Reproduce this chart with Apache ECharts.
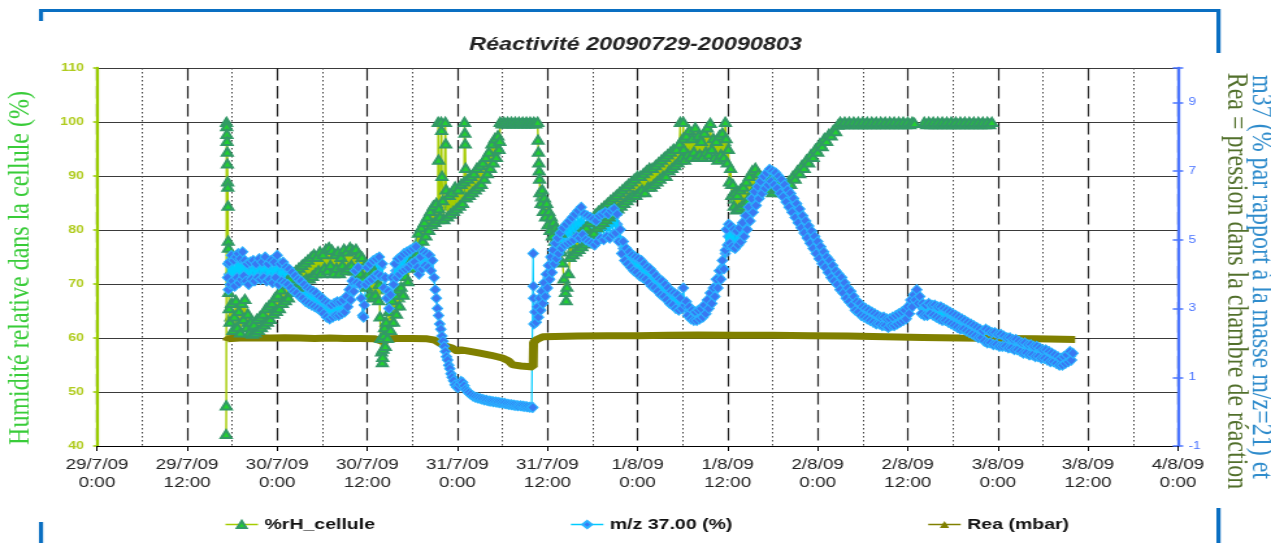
<!DOCTYPE html>
<html><head><meta charset="utf-8">
<script src="https://cdn.jsdelivr.net/npm/echarts@6/dist/echarts.min.js"></script>
<style>
html,body{margin:0;padding:0;background:#fff;overflow:hidden;width:1271px;height:543px}
#c{width:978px;height:543px;transform:scaleX(1.29959);transform-origin:0 0}
</style>
</head><body><div id="c"></div>
<script>
// x values: hours since 29/7/09 0:00
const xTickLabels = ['29/7/09\n0:00','29/7/09\n12:00','30/7/09\n0:00','30/7/09\n12:00','31/7/09\n0:00','31/7/09\n12:00','1/8/09\n0:00','1/8/09\n12:00','2/8/09\n0:00','2/8/09\n12:00','3/8/09\n0:00','3/8/09\n12:00','4/8/09\n0:00'];
const seriesNames = ['%rH_cellule','m/z 37.00 (%)','Rea (mbar)'];

const rhData = [[17.2,42.2],[17.22,47.5],[17.25,100],[17.27,99.2],[17.3,97.8],[17.32,96.5],[17.35,94.5],[17.37,92.3],[17.4,89],[17.42,88],[17.45,84.5],[17.47,78],[17.5,76.7],[17.55,68.5],[17.6,65.5],
[17.7,63],[17.9,66.5],[18.1,61.5],[18.3,64],[18.5,67],[18.7,62],[18.9,65],[19.1,61],[19.3,66.5],[19.5,63.5],[19.7,67.2],[19.9,62],[20.1,64.5],[20.3,61],[20.5,63],[20.7,60.8],[20.9,62.5],[21.1,61],[21.3,63.5],[21.5,61.5],[21.7,64],[21.9,62],[22.1,64.5],[22.3,62.5],[22.5,65.5],[22.7,63],[22.9,66],[23.1,63.5],[23.3,66.5],[23.5,64.5],[23.7,67.5],[23.9,65],[24.1,68],[24.3,65.5],[24.5,69],[24.7,66.5],[24.9,70],[25.1,67],[25.3,70.5],[25.5,67.5],[25.7,71],[25.9,68.5],[26.1,72],[26.3,69],[26.5,72.5],[26.7,69.5],[26.9,73],[27.1,70],[27.3,73.5],[27.5,70.5],[27.7,74],[27.9,71],[28.1,74.5],[28.3,71],[28.5,75],[28.7,71.5],[28.9,75.5],[29.1,72],[29.3,75],[29.5,72.5],[29.7,76],[29.9,72],[30.1,75.5],[30.3,73],[30.5,76.5],[30.7,72.5],[30.9,76.8],[31.1,73.5],[31.3,76.3],[31.5,72],[31.7,75.5],[31.9,73],[32.1,76],[32.3,72],[32.5,75],[32.7,73.5],[32.9,76.5],[33.1,72.5],[33.3,76],[33.5,73],[33.7,76.8],[33.9,73.5],[34.1,76.3],[34.3,72.5],[34.5,76.5],[34.7,73],[34.9,75.5],[35.1,72],[35.3,75],[35.5,71],[35.7,73.5],[35.9,69.5],[36.1,72],[36.3,68],[36.5,71],[36.7,67.5],[36.9,72.5],[37.1,68],[37.3,71.5],[37.5,67],[37.6,70],[37.7,64],[37.8,60],[37.9,57.5],[38.0,55.5],[38.05,56.5],[38.1,58],[38.2,60.5],[38.3,62],[38.4,58.5],[38.5,63],[38.7,60],[38.9,65],[39.1,61.5],[39.3,67],[39.5,63],[39.7,68],[39.9,64.5],[40.1,69],[40.3,66],[40.5,69.5],[40.8,68],[41.1,71.5],[41.4,70.5],[41.7,74],[42.0,73],[42.3,76.5],[42.6,75.5],[42.8,79.5],[43.0,77],[43.2,80.5],[43.4,78],[43.6,81.5],[43.8,79],[44.0,82.5],[44.2,80],[44.4,83.5],[44.6,81],[44.8,84.5],[45.0,81.5],[45.2,85],[45.4,82],[45.45,100],[45.5,93],[45.55,84],[45.7,82.5],[45.85,100],[45.9,98.5],[45.95,90],[46.05,85.5],[46.2,82],[46.4,100],[46.45,96],[46.5,87.5],[46.7,82.5],[46.9,86.5],[47.1,83],[47.3,87],[47.5,83.5],[47.7,88],[47.9,84],[48.1,87.5],[48.3,84.5],[48.5,88.5],[48.7,85],[48.9,89],[48.95,100],[49.0,98],[49.05,96],[49.1,91.5],[49.2,86],[49.4,89.5],[49.6,86.5],[49.8,90],[50.0,87],[50.2,90.5],[50.4,87.5],[50.6,91.5],[50.8,88],[51.0,92],[51.2,88.5],[51.4,92.5],[51.6,89.5],[51.8,93.5],[52.0,90.5],[52.2,94.5],[52.4,91.5],[52.6,96],[52.8,92.5],[53.0,97],[53.2,93.5],[53.4,97.5],[53.55,95],[53.65,96.5],[53.7,100],
[53.95,99.7],[54.2,100],[54.45,99.7],[54.7,100],[54.95,99.7],[55.2,100],[55.45,99.7],[55.7,100],[55.95,99.7],[56.2,100],[56.45,99.7],[56.7,100],[56.95,99.7],[57.2,100],[57.45,99.7],[57.7,100],[57.95,99.7],[58.2,100],[58.45,99.7],[58.7,100],
[58.75,96.7],[58.8,94.5],[58.85,92.5],[58.9,91],[58.95,89.5],[59.0,87],[59.15,85],[59.3,87.5],[59.45,83.5],[59.6,86],[59.75,82.5],[59.9,85],[60.05,81],[60.2,83.5],[60.35,80],[60.5,82.5],[60.65,79],[60.8,81.5],[60.95,78],[61.1,80.5],[61.25,77.5],[61.4,80],[61.55,77],[61.7,79.5],[61.85,76],[62.0,74],[62.2,71],[62.4,68.5],[62.5,67],[62.6,69.5],[62.8,72],[63.0,75],[63.2,77.5],[63.4,75.5],[63.6,78.5],[63.8,76],[64.0,79],[64.2,76.5],[64.4,79.5],[64.6,77],[64.8,80],[65.0,77.5],[65.2,80.5],[65.4,78],[65.6,81.5],[65.8,79],[66.0,82],[66.2,79.5],[66.4,83],[66.6,80.5],[66.8,83.5],[67.0,81],[67.2,84],[67.4,81.5],[67.6,84.5],[67.8,82],[68.0,85],[68.2,82.5],[68.4,85.5],[68.6,83],[68.8,86],[69.0,83.5],[69.2,86.5],[69.4,84],[69.6,87],[69.8,84.5],[70.0,87.5],[70.2,85],[70.4,88],[70.6,85.5],[70.8,88.5],[71.0,86],[71.2,89],[71.4,86.5],[71.6,89.5],[71.8,86.5],[72.0,90],[72.2,87],[72.4,90],[72.6,87.5],[72.8,90.5],[73.0,87],[73.2,91],[73.4,88],[73.6,91.5],[73.8,88],[74.0,91.5],[74.2,88.5],[74.4,92],[74.6,89],[74.8,92.5],[75.0,89.5],[75.2,93],[75.4,90],[75.6,93.5],[75.8,90],[76.0,94],[76.2,91],[76.4,94.5],[76.6,91.5],[76.8,95],[77.0,92],[77.2,95],[77.4,92.5],[77.6,96],[77.7,100],[77.75,93],[77.9,93.5],[78.05,97],[78.1,100],[78.15,95],[78.3,93],[78.5,97.5],[78.7,94],[78.9,98.5],[79.1,93.5],[79.3,97],[79.5,94.5],[79.7,99],[79.9,93.5],[80.1,97.5],[80.3,94],[80.5,96.5],[80.7,93.5],[80.9,98],[81.1,94.5],[81.3,99],[81.5,94],[81.7,99.8],[81.9,95],[82.1,97],[82.3,93.5],[82.5,96.5],[82.7,93],[82.9,97.5],[83.1,94],[83.3,98],[83.5,93.5],[83.7,100],[83.8,97],[83.95,92.5],[84.1,95],[84.25,89],[84.4,91.5],[84.55,86.5],[84.7,88.5],[84.85,84.5],[85.0,87],[85.15,83.8],[85.3,86.5],[85.5,84],[85.7,87.5],[85.9,84.5],[86.1,88],[86.3,85],[86.5,89],[86.7,85.5],[86.9,90],[87.1,86.5],[87.3,91],[87.5,87.5],[87.7,91.5],[87.9,88],[88.1,90.5],[88.3,87.5],[88.5,89.5],[88.8,88],[89.1,90],[89.4,87.5],[89.7,89.5],[90.0,87],[90.3,89],[90.6,87.5],[90.9,89],[91.2,87],[91.5,88.5],[91.8,87.5],[92.1,89],[92.4,88.5],[92.7,90],[93.0,89.5],[93.3,91],[93.6,90.5],[93.9,92],[94.2,91.5],[94.5,93],[94.8,92.5],[95.1,94],[95.4,93.5],[95.7,95],[96.0,94.5],[96.3,96],[96.6,95.5],[96.9,97],[97.2,96.5],[97.5,97.8],[97.8,97.5],[98.1,98.5],[98.4,98.3],[98.7,99.5],[99.0,100],
[99.3,99.6],[99.6,100],[99.9,99.6],[100.2,100],[100.5,99.6],[100.8,100],[101.1,99.6],[101.4,100],[101.7,99.6],[102.0,100],[102.3,99.6],[102.6,100],[102.9,99.6],[103.2,100],[103.5,99.6],[103.8,100],[104.1,99.6],[104.4,100],[104.7,99.6],[105.0,100],[105.3,99.6],[105.6,100],[105.9,99.6],[106.2,100],[106.5,99.6],[106.8,100],[107.1,99.6],[107.4,100],[107.7,99.6],[108.0,100],[108.3,99.6],[108.6,100],[108.9,99.8],
[109.5,null],
[110.2,100],[110.5,99.6],[110.8,100],[111.1,99.6],[111.4,100],[111.7,99.6],[112.0,100],[112.3,99.6],[112.6,100],[112.9,99.6],[113.2,100],[113.5,99.6],[113.8,100],[114.1,99.6],[114.4,100],[114.7,99.6],[115.0,100],[115.3,99.6],[115.6,100],[115.9,99.6],[116.2,100],[116.5,99.6],[116.8,100],[117.1,99.6],[117.4,100],[117.7,99.6],[118.0,100],[118.3,99.6],[118.6,100],[118.9,99.6],[119.2,100]];

// readings from the middle of the dense %rH band
const rhMidData = [[17.8,64],[18.2,63.5],[18.6,64.5],[19.0,63],[19.4,65],[19.8,64.5],[20.2,63],[20.6,62],[21.0,62],[21.4,62.5],[21.8,63],[22.2,63.5],[22.6,64.2],[23.0,64.8],[23.4,65.5],[23.8,66.2],[24.2,67],[24.6,67.8],[25.0,68.5],[25.4,69],[25.8,69.8],[26.2,70.5],[26.6,71],[27.0,71.5],[27.4,72],[27.8,72.5],[28.2,72.8],[28.6,73.2],[29.0,73.6],[29.4,73.8],[29.8,74],[30.2,74.3],[30.6,74.6],[31.0,75],[31.4,74.5],[31.8,74.3],[32.2,74],[32.6,74.3],[33.0,74.5],[33.4,74.7],[33.8,75],[34.2,74.5],[34.6,74.8],[35.0,73.8],[35.4,73],[35.8,71.5],[36.2,70],[36.6,69.5],[37.0,70],[37.4,69],[38.6,61.5],[39.0,63],[39.4,64.8],[39.8,66],[40.2,67.5],[40.6,68.5],[42.9,78.3],[43.3,79.2],[43.7,80.2],[44.1,81.2],[44.5,82.2],[44.9,83],[45.3,83.5],[46.8,84.5],[47.2,85],[47.6,85.8],[48.0,86],[48.4,86.5],[48.8,87],[49.3,87.8],[49.7,88.2],[50.1,88.8],[50.5,89.5],[50.9,90],[51.3,90.5],[51.7,91.5],[52.1,92.5],[52.5,93.8],[52.9,94.7],[53.3,95.5],[59.2,86.2],[59.6,84.8],[60.0,83],[60.4,81.3],[60.8,80],[61.2,79],[61.6,78.2],[63.3,76.5],[63.7,77.3],[64.1,77.8],[64.5,78.3],[64.9,78.8],[65.3,79.3],[65.7,80.2],[66.1,80.8],[66.5,81.8],[66.9,82.3],[67.3,82.8],[67.7,83.3],[68.1,83.8],[68.5,84.3],[68.9,84.8],[69.3,85.3],[69.7,85.8],[70.1,86.3],[70.5,86.8],[70.9,87.3],[71.3,87.8],[71.7,88],[72.1,88.5],[72.5,88.8],[72.9,89],[73.3,89.5],[73.7,89.8],[74.1,90],[74.5,90.5],[74.9,91],[75.3,91.5],[75.7,91.8],[76.1,92.5],[76.5,93],[76.9,93.5],[77.3,93.8],[78.4,95.3],[78.8,96],[79.2,95.5],[79.6,96.5],[80.0,95.5],[80.4,95.3],[80.8,95.5],[81.2,96.5],[81.6,96.8],[82.0,96],[82.4,95],[82.8,95.3],[83.2,96],[83.6,96.5],[84.5,88.5],[84.9,85.8],[85.4,85.2],[85.8,86],[86.2,86.5],[86.6,87.2],[87.0,88.2],[87.4,89.2],[87.8,89.8],[88.2,89],[88.6,88.7],[89.2,88.7],[89.8,88.3],[90.4,88.2],[91.0,88],[91.6,88],[92.2,88.8]];

const mzData = [[17.4,3.9],[17.45,4.3],[17.5,3.55],[17.6,4.35],[17.75,3.7],[17.9,4.55],[18.05,3.8],[18.2,4.4],[18.35,3.65],[18.5,4.5],[18.65,3.9],[18.8,4.6],[18.95,3.75],[19.1,4.45],[19.25,3.85],[19.4,4.65],[19.55,3.95],[19.7,4.4],[19.85,3.8],[20.0,4.3],[20.2,3.7],[20.4,4.35],[20.6,3.85],[20.8,4.4],[21.0,3.8],[21.2,4.3],[21.4,3.9],[21.6,4.45],[21.8,3.85],[22.0,4.35],[22.2,3.9],[22.4,4.5],[22.6,3.8],[22.8,4.3],[23.0,3.85],[23.2,4.4],[23.4,3.75],[23.6,4.35],[23.8,3.9],[24.0,4.55],[24.2,3.7],[24.4,4.3],[24.6,3.8],[24.8,4.35],[25.0,3.75],[25.2,4.2],[25.4,3.7],[25.6,4.15],[25.8,3.6],[26.0,4.05],[26.2,3.5],[26.4,3.95],[26.6,3.45],[26.8,3.85],[27.0,3.35],[27.2,3.8],[27.4,3.3],[27.6,3.7],[27.8,3.2],[28.0,3.6],[28.2,3.15],[28.4,3.55],[28.6,3.1],[28.8,3.5],[29.0,3.05],[29.2,3.45],[29.4,3.0],[29.6,3.35],[29.8,2.95],[30.0,3.3],[30.2,2.85],[30.4,3.2],[30.6,2.75],[30.8,3.15],[31.0,2.7],[31.2,3.1],[31.4,2.75],[31.6,3.15],[31.8,2.8],[32.0,3.2],[32.2,2.8],[32.4,3.2],[32.6,2.85],[32.8,3.25],[33.0,2.9],[33.2,3.35],[33.4,3.05],[33.6,3.55],[33.8,3.25],[34.0,3.8],[34.2,3.5],[34.4,4.1],[34.6,3.75],[34.8,4.2],[35.0,3.7],[35.2,3.3],[35.4,2.8],[35.5,2.75],[35.6,3.1],[35.8,3.7],[36.0,4.2],[36.2,3.8],[36.4,4.3],[36.6,3.85],[36.8,4.4],[37.0,3.95],[37.2,4.45],[37.4,4.0],[37.6,4.5],[37.8,3.95],[38.0,4.3],[38.2,3.6],[38.4,3.9],[38.6,3.3],[38.8,3.5],[38.9,3.0],[39.1,3.4],[39.3,3.9],[39.5,3.7],[39.7,4.3],[39.9,3.9],[40.1,4.45],[40.3,4.0],[40.5,4.5],[40.7,4.1],[40.9,4.6],[41.1,4.15],[41.3,4.65],[41.5,4.2],[41.7,4.7],[41.9,4.3],[42.1,4.75],[42.3,4.35],[42.5,4.8],[42.7,4.2],[42.9,4.0],[43.1,4.5],[43.3,4.15],[43.5,4.65],[43.7,4.25],[43.9,4.6],[44.1,4.2],[44.3,4.55],[44.5,4.1],[44.7,4.4],[44.9,3.9],[45.05,3.55],[45.2,3.3],[45.35,3.0],[45.5,2.8],[45.65,2.55],[45.8,2.4],[45.95,2.2],[46.1,2.05],[46.25,1.9],[46.4,1.75],[46.55,1.6],[46.7,1.5],[46.85,1.35],[47.0,1.25],[47.15,1.1],[47.3,1.0],[47.5,0.9],[47.7,0.78],[47.9,0.72],[48.1,0.7],[48.3,0.8],[48.5,0.88],[48.7,0.85],[48.9,0.75],[49.1,0.65],[49.3,0.6],[49.5,0.55],[49.8,0.5],[50.1,0.45],[50.4,0.42],[50.7,0.4],[51.0,0.38],[51.3,0.36],[51.6,0.34],[51.9,0.33],[52.2,0.31],[52.5,0.3],[52.8,0.29],[53.1,0.28],[53.4,0.27],[53.7,0.26],[54.0,0.25],[54.3,0.24],[54.6,0.22],[54.9,0.21],[55.2,0.2],[55.5,0.19],[55.8,0.18],[56.1,0.17],[56.4,0.17],[56.7,0.16],[57.0,0.15],[57.3,0.14],[57.6,0.13],[57.9,0.13],[58.05,0.12],
[58.1,4.6],[58.13,3.65],[58.16,3.3],[58.2,2.55],[58.35,2.9],[58.5,2.6],[58.65,3.05],[58.8,2.75],[58.95,3.3],[59.1,2.95],[59.25,3.5],[59.4,3.15],[59.55,3.75],[59.7,3.35],[59.85,4.0],[60.0,3.6],[60.15,4.25],[60.3,3.85],[60.45,4.5],[60.6,4.05],[60.75,4.7],[60.9,4.3],[61.05,4.9],[61.2,4.45],[61.35,5.05],[61.5,4.6],[61.7,5.2],[61.9,4.75],[62.1,5.35],[62.3,4.85],[62.5,5.45],[62.7,4.9],[62.9,5.55],[63.1,4.95],[63.3,5.65],[63.5,5.0],[63.7,5.75],[63.9,5.1],[64.1,5.85],[64.3,5.05],[64.5,5.95],[64.7,5.15],[64.9,5.75],[65.1,5.0],[65.3,5.7],[65.5,4.95],[65.7,5.65],[65.9,4.9],[66.1,5.6],[66.3,4.85],[66.5,5.55],[66.7,4.95],[66.9,5.7],[67.1,5.05],[67.3,5.75],[67.5,5.0],[67.7,5.8],[67.9,5.1],[68.1,5.75],[68.3,5.05],[68.5,5.85],[68.7,5.15],[68.9,5.9],[69.1,5.2],[69.3,5.75],[69.5,4.95],[69.7,5.3],[69.9,4.6],[70.1,4.95],[70.3,4.4],[70.5,4.75],[70.7,4.3],[70.9,4.65],[71.1,4.2],[71.3,4.55],[71.5,4.1],[71.7,4.5],[71.9,4.05],[72.1,4.45],[72.3,3.95],[72.5,4.4],[72.7,3.9],[72.9,4.3],[73.1,3.85],[73.3,4.2],[73.5,3.75],[73.7,4.15],[73.9,3.65],[74.1,4.05],[74.3,3.6],[74.5,3.95],[74.7,3.5],[74.9,3.85],[75.1,3.4],[75.3,3.8],[75.5,3.35],[75.7,3.7],[75.9,3.25],[76.1,3.6],[76.3,3.15],[76.5,3.5],[76.7,3.1],[76.9,3.45],[77.1,3.0],[77.3,3.4],[77.5,2.95],[77.7,3.3],[77.9,3.0],[78.1,3.6],[78.3,3.1],[78.5,3.2],[78.7,2.8],[78.9,3.05],[79.1,2.7],[79.3,2.95],[79.5,2.65],[79.7,2.9],[79.9,2.65],[80.1,2.95],[80.3,2.7],[80.5,3.0],[80.7,2.75],[80.9,3.1],[81.1,2.85],[81.3,3.25],[81.5,3.0],[81.7,3.45],[81.9,3.15],[82.1,3.6],[82.3,3.35],[82.5,3.85],[82.7,3.6],[82.9,4.1],[83.1,3.85],[83.3,4.4],[83.5,4.15],[83.7,4.7],[83.85,5.3],[84.0,4.85],[84.15,5.45],[84.3,4.9],[84.45,5.4],[84.6,4.8],[84.8,5.3],[85.0,4.75],[85.2,5.25],[85.4,4.85],[85.6,5.35],[85.8,4.95],[86.0,5.5],[86.2,5.1],[86.4,5.7],[86.6,5.3],[86.8,5.95],[87.0,5.55],[87.2,6.2],[87.4,5.8],[87.6,6.4],[87.8,6.0],[88.0,6.55],[88.2,6.2],[88.4,6.7],[88.6,6.35],[88.8,6.85],[89.0,6.5],[89.2,6.95],[89.4,6.6],[89.6,7.05],[89.8,6.7],[90.0,7.0],[90.2,6.6],[90.4,6.95],[90.6,6.5],[90.8,6.85],[91.0,6.35],[91.2,6.75],[91.4,6.25],[91.6,6.6],[91.8,6.1],[92.0,6.45],[92.2,5.95],[92.4,6.35],[92.6,5.8],[92.8,6.2],[93.0,5.65],[93.2,6.05],[93.4,5.5],[93.6,5.9],[93.8,5.35],[94.0,5.7],[94.2,5.2],[94.4,5.55],[94.6,5.05],[94.8,5.4],[95.0,4.9],[95.2,5.25],[95.4,4.75],[95.6,5.1],[95.8,4.6],[96.0,4.95],[96.2,4.45],[96.4,4.8],[96.6,4.3],[96.8,4.65],[97.0,4.2],[97.2,4.5],[97.4,4.05],[97.6,4.4],[97.8,3.9],[98.0,4.25],[98.2,3.8],[98.4,4.1],[98.6,3.7],[98.8,4.0],[99.0,3.55],[99.2,3.9],[99.4,3.45],[99.6,3.75],[99.8,3.3],[100.0,3.6],[100.2,3.2],[100.4,3.5],[100.6,3.1],[100.8,3.35],[101.0,2.95],[101.2,3.2],[101.4,2.9],[101.6,3.15],[101.8,2.8],[102.0,3.05],[102.2,2.75],[102.4,3.0],[102.6,2.7],[102.8,2.95],[103.0,2.65],[103.2,2.9],[103.4,2.6],[103.6,2.85],[103.8,2.55],[104.0,2.8],[104.2,2.55],[104.4,2.75],[104.6,2.5],[104.8,2.75],[105.0,2.5],[105.2,2.7],[105.4,2.45],[105.6,2.7],[105.8,2.5],[106.0,2.75],[106.2,2.5],[106.4,2.8],[106.6,2.55],[106.8,2.85],[107.0,2.6],[107.2,2.9],[107.4,2.65],[107.6,2.95],[107.8,2.7],[108.0,3.05],[108.2,2.85],[108.4,3.25],[108.6,3.05],[108.8,3.4],[109.0,3.25],[109.2,3.55],[109.4,3.15],[109.6,3.35],[109.8,2.85],
[110.0,3.15],[110.2,2.8],[110.4,3.1],[110.6,2.8],[110.8,3.15],[111.0,2.85],[111.2,3.1],[111.4,2.8],[111.6,3.1],[111.8,2.75],[112.0,3.05],[112.2,2.7],[112.4,3.05],[112.6,2.65],[112.8,3.0],[113.0,2.65],[113.2,2.95],[113.4,2.6],[113.6,2.9],[113.8,2.55],[114.0,2.85],[114.2,2.5],[114.4,2.8],[114.6,2.45],[114.8,2.75],[115.0,2.4],[115.2,2.7],[115.4,2.4],[115.6,2.65],[115.8,2.35],[116.0,2.6],[116.2,2.3],[116.4,2.55],[116.6,2.25],[116.8,2.5],[117.0,2.2],[117.2,2.45],[117.4,2.15],[117.6,2.4],[117.8,2.15],[118.0,2.35],
[118.2,2.05],[118.4,2.4],[118.6,2.0],[118.8,2.35],[119.0,2.0],[119.2,2.3],[119.4,1.95],[119.6,2.3],[119.8,1.95],[120.0,2.25],[120.2,1.9],[120.4,2.25],[120.6,1.9],[120.8,2.2],[121.0,1.9],[121.2,2.15],[121.4,1.85],[121.6,2.15],[121.8,1.85],[122.0,2.1],[122.2,1.8],[122.4,2.1],[122.6,1.8],[122.8,2.05],[123.0,1.75],[123.2,2.0],[123.4,1.7],[123.6,2.0],[123.8,1.7],[124.0,1.95],[124.2,1.65],[124.4,1.95],[124.6,1.65],[124.8,1.9],[125.0,1.6],[125.2,1.9],[125.4,1.6],[125.6,1.85],[125.8,1.55],[126.0,1.8],[126.2,1.55],[126.4,1.8],[126.6,1.5],[126.8,1.75],[127.0,1.45],[127.2,1.7],[127.4,1.45],[127.6,1.65],[127.8,1.4],[128.0,1.6],[128.2,1.35],[128.4,1.55],[128.6,1.35],[128.8,1.6],[129.0,1.4],[129.2,1.65],[129.4,1.45],[129.6,1.75],[129.8,1.5],[130.0,1.7]];

// readings from the middle of the dense m/z 37 band
const mzMidData = [[17.6,4.0],[18.0,4.1],[18.4,4.05],[18.8,4.15],[19.2,4.2],[19.6,4.15],[20.0,4.05],[20.4,4.1],[20.8,4.1],[21.2,4.05],[21.6,4.15],[22.0,4.1],[22.4,4.15],[22.8,4.05],[23.2,4.1],[23.6,4.05],[24.0,4.1],[24.4,4.05],[24.8,4.05],[25.2,3.95],[25.6,3.9],[26.0,3.8],[26.4,3.7],[26.8,3.6],[27.2,3.55],[27.6,3.45],[28.0,3.4],[28.4,3.35],[28.8,3.3],[29.2,3.25],[29.6,3.15],[30.0,3.1],[30.4,3.0],[30.8,2.95],[31.2,2.9],[31.6,2.95],[32.0,3.0],[32.4,3.0],[32.8,3.05],[33.2,3.2],[33.6,3.4],[34.0,3.65],[34.4,3.9],[34.8,3.95],[36.2,4.0],[36.6,4.1],[37.0,4.2],[37.4,4.25],[37.8,4.2],[39.8,4.1],[40.2,4.25],[40.6,4.3],[41.0,4.4],[41.4,4.45],[41.8,4.5],[42.2,4.55],[42.6,4.5],[43.2,4.35],[43.6,4.45],[44.0,4.4],[44.4,4.35],[58.9,3.0],[59.3,3.3],[59.7,3.6],[60.1,3.9],[60.5,4.3],[60.9,4.55],[61.3,4.75],[61.7,4.95],[62.1,5.1],[62.5,5.2],[62.9,5.25],[63.3,5.3],[63.7,5.4],[64.1,5.45],[64.5,5.5],[64.9,5.4],[65.3,5.35],[65.7,5.3],[66.1,5.25],[66.5,5.2],[66.9,5.35],[67.3,5.4],[67.7,5.45],[68.1,5.4],[68.5,5.5],[68.9,5.55],[69.3,5.45],[69.7,5.0],[70.1,4.75],[70.5,4.55],[70.9,4.45],[71.3,4.35],[71.7,4.3],[72.1,4.2],[72.5,4.15],[72.9,4.1],[73.3,4.0],[73.7,3.9],[74.1,3.85],[74.5,3.75],[74.9,3.65],[75.3,3.6],[75.7,3.5],[76.1,3.4],[76.5,3.3],[76.9,3.25],[77.3,3.2],[77.7,3.15],[78.5,3.0],[78.9,2.9],[79.3,2.8],[79.7,2.78],[80.1,2.8],[80.5,2.85],[80.9,2.95],[81.3,3.05],[81.7,3.25],[82.1,3.4],[82.5,3.65],[82.9,3.9],[83.3,4.2],[83.7,4.6],[84.1,5.1],[84.5,5.1],[84.9,5.0],[85.3,5.05],[85.7,5.15],[86.1,5.3],[86.5,5.5],[86.9,5.75],[87.3,6.0],[87.7,6.2],[88.1,6.4],[88.5,6.5],[88.9,6.7],[89.3,6.8],[89.7,6.9],[90.1,6.8],[90.5,6.7],[90.9,6.6],[91.3,6.5],[91.7,6.35],[92.1,6.2],[92.5,6.05],[92.9,5.9],[93.3,5.75],[93.7,5.6],[94.1,5.45],[94.5,5.3],[94.9,5.15],[95.3,5.0],[95.7,4.85],[96.1,4.7],[96.5,4.55],[96.9,4.45],[97.3,4.3],[97.7,4.15],[98.1,4.0],[98.5,3.9],[98.9,3.8],[99.3,3.65],[99.7,3.5],[100.1,3.4],[100.5,3.3],[100.9,3.15],[101.3,3.05],[101.7,2.95],[102.1,2.9],[102.5,2.85],[102.9,2.8],[103.3,2.75],[103.7,2.7],[104.1,2.65],[104.5,2.62],[104.9,2.6],[105.3,2.58],[105.7,2.6],[106.1,2.62],[106.5,2.65],[106.9,2.7],[107.3,2.78],[107.7,2.82],[108.1,2.95],[108.5,3.15],[108.9,3.3],[109.3,3.35],[109.7,3.1],[110.1,2.98],[110.5,2.95],[110.9,3.0],[111.3,2.95],[111.7,2.9],[112.1,2.88],[112.5,2.85],[112.9,2.82],[113.3,2.78],[113.7,2.72],[114.1,2.68],[114.5,2.62],[114.9,2.58],[115.3,2.55],[115.7,2.5],[116.1,2.45],[116.5,2.4],[116.9,2.35],[117.3,2.3],[117.7,2.28],[118.1,2.22],[118.5,2.2],[118.9,2.18],[119.3,2.12],[119.7,2.12],[120.1,2.08],[120.5,2.05],[120.9,2.05],[121.3,2.0],[121.7,2.0],[122.1,1.95],[122.5,1.95],[122.9,1.9],[123.3,1.85],[123.7,1.85],[124.1,1.8],[124.5,1.8],[124.9,1.75],[125.3,1.75],[125.7,1.7],[126.1,1.68],[126.5,1.65],[126.9,1.6],[127.3,1.58],[127.7,1.52],[128.1,1.48],[128.5,1.45],[128.9,1.5],[129.3,1.55],[129.7,1.62]];

const reaData = [[17.3,2.05],[17.4,2.12],[19,2.14],[21,2.15],[23,2.14],[25,2.15],[27,2.14],[29,2.13],[31,2.14],[33,2.13],[35,2.13],[37,2.12],[37.8,2.06],[38.3,2.04],[38.8,2.12],[40,2.13],[42,2.13],[44,2.12],[45,2.08],[45.7,1.99],[46.5,1.9],[47.3,1.85],[48,1.76],[48.5,1.8],[49.5,1.76],[51,1.7],[52.5,1.64],[54,1.56],[54.8,1.48],[55.4,1.36],[56.5,1.33],[58.1,1.3],[58.15,2.02],[58.6,2.1],[59.4,2.18],[61,2.19],[64,2.2],[68,2.21],[72,2.21],[76,2.22],[80,2.23],[85,2.22],[90,2.22],[95,2.21],[100,2.2],[105,2.18],[110,2.16],[115,2.14],[120,2.13],[125,2.12],[130.3,2.1]];

const SX = 1271 / 978;
const px = x => x / SX;

const rhStyle = {symbol: 'triangle', symbolSize: [8, 8], itemStyle: {color: '#22d030', borderColor: '#339966', borderWidth: 2}};
const mzStyle = {symbol: 'diamond', symbolSize: [8, 10], itemStyle: {color: '#3a78f2', borderColor: '#2ab4ff', borderWidth: 1}};

const chart = echarts.init(document.getElementById('c'), null, {renderer: 'canvas'});
const rightAxisBase = {type: 'value', min: -1, max: 10, interval: 2, position: 'right'};
chart.setOption({
  animation: false,
  backgroundColor: '#fff',
  title: {
    text: 'Réactivité 20090729-20090803', left: 'center', top: 31,
    textStyle: {fontSize: 18, fontWeight: 'bold', fontStyle: 'italic', color: '#222', fontFamily: 'Liberation Sans, Arial'}
  },
  grid: {left: px(97), right: px(1271 - 1178), top: 68, bottom: 97},
  legend: {
    left: px(218), top: 512, itemGap: 150, itemWidth: 25, itemHeight: 9,
    textStyle: {fontWeight: 'bold', fontSize: 15, color: '#111', fontFamily: 'Liberation Sans, Arial'},
    data: seriesNames.map(n => ({name: n, lineStyle: {width: 1.5}}))
  },
  xAxis: {
    type: 'value', min: 0, max: 144, interval: 12,
    axisLine: {onZero: false, lineStyle: {color: '#000', width: 1}},
    axisTick: {show: true, length: 5, lineStyle: {color: '#000'}},
    axisLabel: {formatter: v => xTickLabels[Math.round(v / 12)], fontSize: 14.5, color: '#222', lineHeight: 18, margin: 10, fontFamily: 'Liberation Sans, Arial'},
    splitLine: {show: true, lineStyle: {color: '#222', type: [12.5, 5.5], width: 1.2}},
    minorTick: {show: false, splitNumber: 2},
    minorSplitLine: {show: true, lineStyle: {color: '#444', type: [1.5, 2.5], width: 1}}
  },
  yAxis: [
    {
      type: 'value', min: 40, max: 110, interval: 10, position: 'left',
      axisLine: {show: true, lineStyle: {color: '#99cc00', width: 2.3}},
      axisTick: {show: true, length: 3, lineStyle: {color: '#99cc00', width: 1.5}},
      axisLabel: {color: '#b0cc1e', fontWeight: 'bold', fontSize: 11, margin: 10, fontFamily: 'Liberation Sans, Arial'},
      splitLine: {show: true, lineStyle: {color: '#3a3a3a', width: 1}}
    },
    Object.assign({}, rightAxisBase, {
      axisLine: {show: true, lineStyle: {color: '#4a74ff', width: 2.3}},
      axisTick: {show: true, length: 4, lineStyle: {color: '#4a74ff', width: 1.5}},
      axisLabel: {color: '#4a74ff', fontSize: 10.5, margin: 8, fontFamily: 'Liberation Sans, Arial', formatter: v => (v === 10 ? '' : String(v))},
      splitLine: {show: false}
    }),
    Object.assign({}, rightAxisBase, {
      axisLine: {show: false},
      axisTick: {show: true, inside: true, length: 4, lineStyle: {color: '#4a74ff', width: 1.5}},
      axisLabel: {show: false},
      splitLine: {show: false}
    })
  ],
  graphic: [
    {type: 'polyline', shape: {points: [[px(41), 21], [px(41), 10.5], [px(1218.5), 10.5], [px(1218.5), 53]]}, style: {stroke: '#0a6fc2', lineWidth: 3.2, fill: null}, silent: true},
    {type: 'line', shape: {x1: px(41), y1: 522, x2: px(41), y2: 543}, style: {stroke: '#0a6fc2', lineWidth: 3.2}, silent: true},
    {type: 'line', shape: {x1: px(1218.5), y1: 508, x2: px(1218.5), y2: 543}, style: {stroke: '#0a6fc2', lineWidth: 3.2}, silent: true},
    {type: 'text', x: px(21), y: 268, rotation: Math.PI / 2, silent: true,
     style: {text: 'Humidité relative dans la cellule (%)', font: '24px "Liberation Serif", serif', fill: '#39cc39', align: 'center', verticalAlign: 'middle'}},
    {type: 'text', x: px(1261), y: 277, rotation: -Math.PI / 2, silent: true,
     style: {text: 'm37 (% par rapport à la masse m/z=21) et', font: '24px "Liberation Serif", serif', fill: '#2f8ccc', align: 'center', verticalAlign: 'middle'}},
    {type: 'text', x: px(1236), y: 281, rotation: -Math.PI / 2, silent: true,
     style: {text: 'Rea = pression dans la chambre de réaction', font: '24px "Liberation Serif", serif', fill: '#52702c', align: 'center', verticalAlign: 'middle'}}
  ],
  series: [
    Object.assign({
      name: seriesNames[0], type: 'line', yAxisIndex: 0, data: rhData, showSymbol: true,
      lineStyle: {color: '#a5cc00', width: 1.4},
      emphasis: {disabled: true}
    }, rhStyle),
    Object.assign({
      name: seriesNames[0], type: 'scatter', yAxisIndex: 0, data: rhMidData,
      emphasis: {disabled: true}
    }, rhStyle),
    Object.assign({
      name: seriesNames[1], type: 'line', yAxisIndex: 1, data: mzData, showSymbol: true,
      lineStyle: {color: '#00ccff', width: 1.2},
      emphasis: {disabled: true}
    }, mzStyle),
    Object.assign({
      name: seriesNames[1], type: 'scatter', yAxisIndex: 1, data: mzMidData,
      emphasis: {disabled: true}
    }, mzStyle),
    {
      name: seriesNames[2], type: 'line', yAxisIndex: 1, data: reaData,
      symbol: 'triangle', symbolSize: 7, showSymbol: false,
      lineStyle: {color: '#808000', width: 7},
      itemStyle: {color: '#808000'},
      emphasis: {disabled: true}
    }
  ]
});
</script></body></html>
